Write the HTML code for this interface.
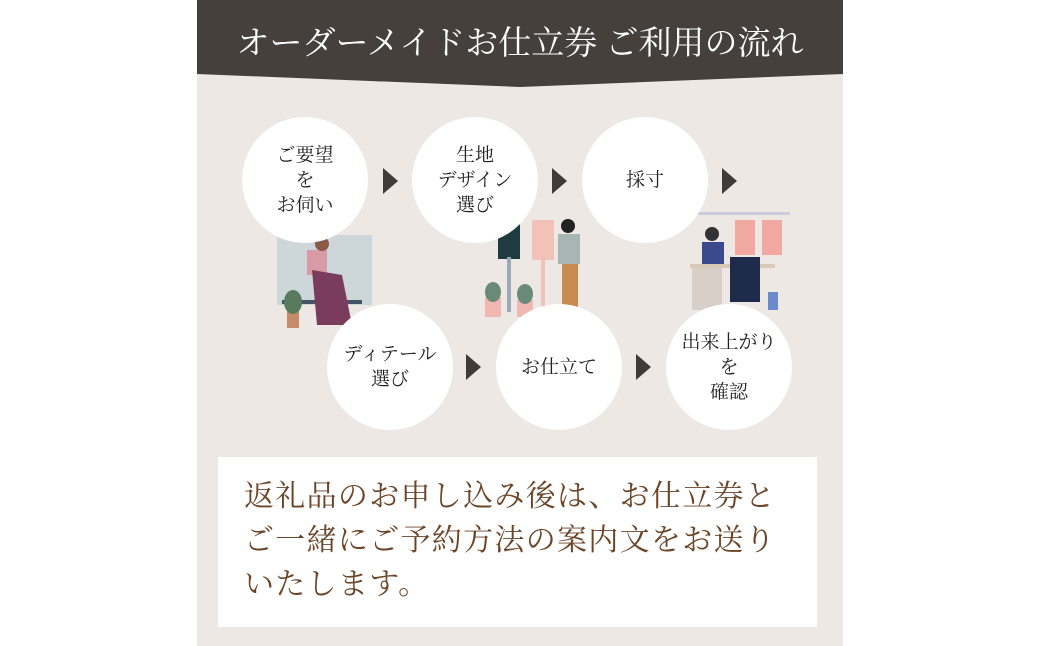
<!DOCTYPE html>
<html><head><meta charset="utf-8"><style>
body{margin:0;width:1040px;height:646px;background:#fff;position:relative;overflow:hidden;font-family:"Liberation Serif","Noto Serif CJK SC",serif}
.panel{position:absolute;left:197px;top:0;width:646px;height:646px;background:#ede8e4}
.c{position:absolute;width:126px;height:126px;border-radius:50%;background:#fff;display:flex;align-items:center;justify-content:center;text-align:center;font-size:19px;line-height:25px;color:#222}
.tri{position:absolute;width:0;height:0;border-top:13px solid transparent;border-bottom:13px solid transparent;border-left:15px solid #403a38}
.a{position:absolute}
</style></head><body>
<div class="panel"></div>
<svg class="a" style="left:197px;top:0" width="646" height="90"><polygon points="0,0 646,0 646,74 323,87 0,74" fill="#46403d"/>
<text x="323" y="54" text-anchor="middle" fill="#fff" font-size="33" font-family="Liberation Serif,Noto Serif CJK SC,serif">オーダーメイドお仕立券 ご利用の流れ</text></svg>
<svg class="a" style="left:272px;top:230px" width="110" height="100">
<rect x="5" y="5" width="95" height="70" fill="#cdd6d8"/><rect x="10" y="70" width="80" height="4" fill="#456"/>
<rect x="35" y="20" width="20" height="25" fill="#d99aa8"/><circle cx="50" cy="14" r="7" fill="#8a5a44"/>
<polygon points="40,40 70,45 80,95 45,95" fill="#7a3c5c"/><rect x="15" y="80" width="12" height="18" fill="#c58b6a"/><ellipse cx="21" cy="72" rx="9" ry="12" fill="#5a7a5e"/></svg>
<svg class="a" style="left:480px;top:212px" width="110" height="112">
<rect x="18" y="12" width="22" height="35" fill="#1e3b3f"/><rect x="27" y="45" width="4" height="55" fill="#9ab"/>
<rect x="52" y="8" width="22" height="40" fill="#f2c2b8"/><rect x="61" y="45" width="4" height="55" fill="#f2c2b8"/>
<circle cx="88" cy="14" r="7" fill="#222"/><rect x="78" y="22" width="22" height="30" fill="#a7b6b4"/><rect x="82" y="52" width="16" height="45" fill="#c98b4f"/>
<rect x="5" y="85" width="16" height="20" fill="#f0b8b0"/><ellipse cx="13" cy="80" rx="8" ry="10" fill="#6a8a78"/><rect x="37" y="88" width="16" height="17" fill="#f0b8b0"/><ellipse cx="45" cy="82" rx="8" ry="10" fill="#6a8a78"/></svg>
<svg class="a" style="left:690px;top:212px" width="100" height="102">
<rect x="0" y="0" width="100" height="3" fill="#ccd"/><rect x="45" y="8" width="20" height="35" fill="#f0a8a0"/><rect x="72" y="8" width="20" height="35" fill="#f0a8a0"/>
<circle cx="22" cy="22" r="7" fill="#333"/><rect x="12" y="30" width="22" height="22" fill="#3a4a8a"/><rect x="0" y="52" width="85" height="4" fill="#d9c9b9"/>
<rect x="2" y="56" width="30" height="42" fill="#d9cfc9"/><rect x="40" y="45" width="30" height="45" fill="#1e2a4a"/><rect x="78" y="80" width="10" height="18" fill="#6a8acc"/></svg>
<div class="c" style="left:242px;top:117px">ご要望<br>を<br>お伺い</div>
<div class="c" style="left:412px;top:117px">生地<br>デザイン<br>選び</div>
<div class="c" style="left:582px;top:117px">採寸</div>
<div class="c" style="left:327px;top:304px">ディテール<br>選び</div>
<div class="c" style="left:496px;top:304px">お仕立て</div>
<div class="c" style="left:666px;top:304px">出来上がり<br>を<br>確認</div>
<div class="tri" style="left:383px;top:168px"></div>
<div class="tri" style="left:552px;top:168px"></div>
<div class="tri" style="left:722px;top:168px"></div>
<div class="tri" style="left:466px;top:354px"></div>
<div class="tri" style="left:636px;top:354px"></div>
<div class="a" style="left:218px;top:457px;width:599px;height:170px;background:#fff"></div>
<div class="a" style="left:244px;top:475px;font-size:30px;line-height:44px;color:#6b4528;letter-spacing:1.3px;white-space:nowrap">返礼品のお申し込み後は、お仕立券と<br>ご一緒にご予約方法の案内文をお送り<br>いたします。</div>
</body></html>
